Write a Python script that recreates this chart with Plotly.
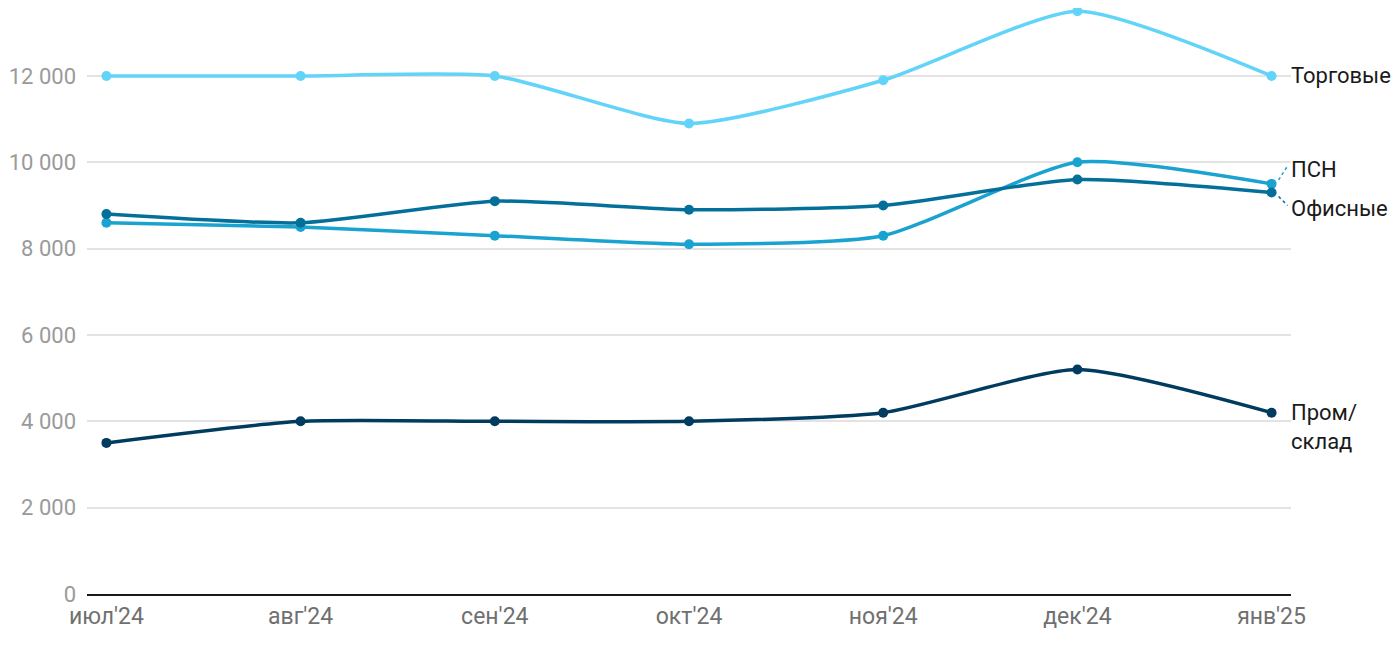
import plotly.graph_objects as go

months = ["июл'24", "авг'24", "сен'24", "окт'24", "ноя'24", "дек'24", "янв'25"]
torg = [12000, 12000, 12000, 10900, 11900, 13500, 12000]
psn = [8600, 8500, 8300, 8100, 8300, 10000, 9500]
ofis = [8800, 8600, 9100, 8900, 9000, 9600, 9300]
prom = [3500, 4000, 4000, 4000, 4200, 5200, 4200]

names = ["Торговые", "ПСН", "Офисные", "Пром/склад"]
colors = ["#62d4fa", "#1aa3d1", "#04709a", "#003c5f"]
series = [torg, psn, ofis, prom]

fig = go.Figure()
for name, col, vals in zip(names, colors, series):
    fig.add_trace(go.Scatter(
        x=months, y=vals, mode="lines+markers", name=name,
        line=dict(color=col, width=3.5, shape="spline", smoothing=0.6),
        marker=dict(color=col, size=10),
        cliponaxis=False,
        hoverinfo="x+y+name",
    ))

font = "Roboto, 'Noto Sans', sans-serif"
label_font = dict(family=font, size=22, color="#1a1a1a")

fig.add_annotation(x=months[-1], y=torg[-1], text="Торговые", showarrow=False,
                   xanchor="left", yanchor="middle", xshift=17, font=label_font)
fig.add_annotation(x=months[-1], y=psn[-1], text="ПСН", showarrow=False,
                   xanchor="left", yanchor="middle", xshift=17, yshift=14, font=label_font)
fig.add_annotation(x=months[-1], y=ofis[-1], text="Офисные", showarrow=False,
                   xanchor="left", yanchor="middle", xshift=17, yshift=-16, font=label_font)
fig.add_annotation(x=months[-1], y=prom[-1], text="Пром/<br>склад", showarrow=False,
                   xanchor="left", yanchor="top", xshift=17, yshift=15, align="left",
                   font=label_font)

fig.add_shape(type="line", xref="x", yref="y", xsizemode="pixel", ysizemode="pixel",
              xanchor=6, yanchor=psn[-1], x0=7, x1=16, y0=4, y1=18,
              line=dict(color=colors[1], width=1.5, dash="dot"))
fig.add_shape(type="line", xref="x", yref="y", xsizemode="pixel", ysizemode="pixel",
              xanchor=6, yanchor=ofis[-1], x0=7, x1=16, y0=-4, y1=-13,
              line=dict(color=colors[2], width=1.5, dash="dot"))

fig.update_layout(
    width=1392, height=642,
    margin=dict(l=79, r=109, t=0, b=56),
    paper_bgcolor="white", plot_bgcolor="white",
    showlegend=False,
    separators=", ",
    font=dict(family=font),
    xaxis=dict(
        type="category", range=[-0.1, 6.1],
        showgrid=False, showline=True, linecolor="#1a1a1a", linewidth=2,
        ticks="", tickfont=dict(size=23, color="#707070", family=font),
        zeroline=False,
    ),
    yaxis=dict(
        range=[0, 13574], tickvals=[0, 2000, 4000, 6000, 8000, 10000, 12000],
        tickformat=",d", showgrid=True, gridcolor="#e3e3e3", gridwidth=1.5,
        zeroline=False, showline=False, ticks="",
        tickfont=dict(size=22, color="#9a9a9a", family=font),
        ticklabelstandoff=10,
    ),
)

fig.write_html("out.html")
